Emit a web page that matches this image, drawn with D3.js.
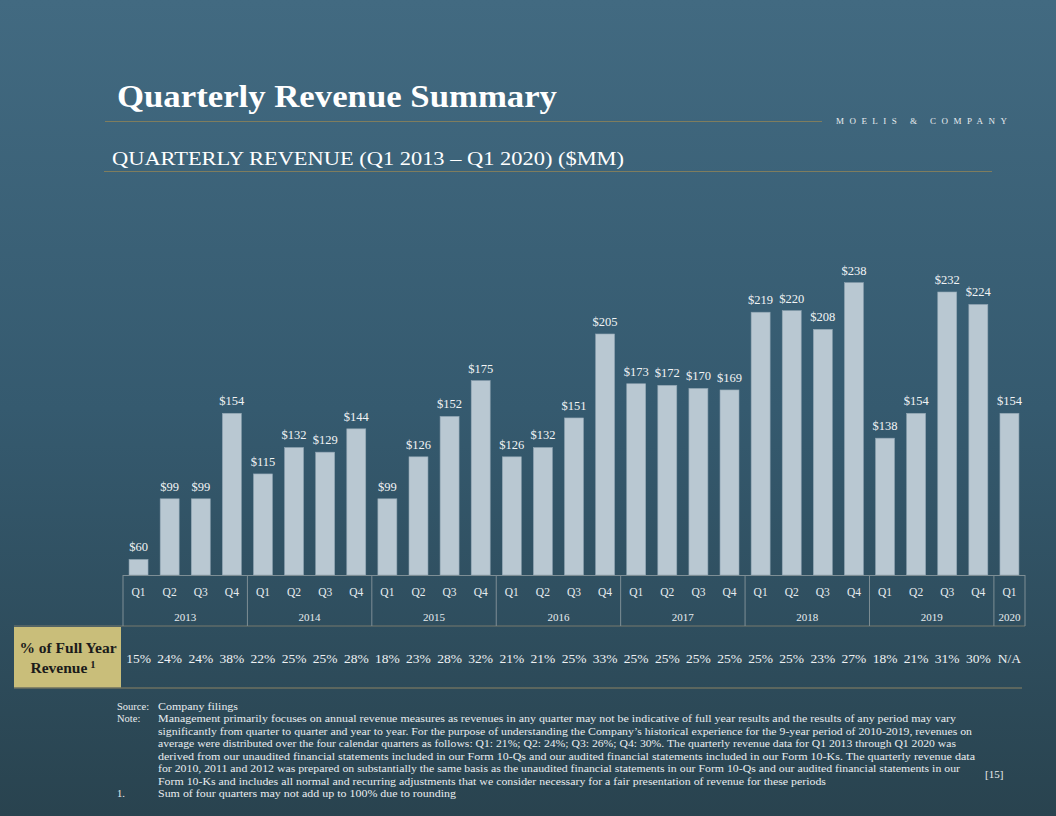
<!DOCTYPE html>
<html>
<head>
<meta charset="utf-8">
<script src="https://cdn.jsdelivr.net/npm/d3@7"></script>
<style>
  html, body { margin: 0; padding: 0; }
  body { width: 1056px; height: 816px; overflow: hidden; }
  svg text { font-family: "Palatino Linotype", "Book Antiqua", Palatino, "Liberation Serif", serif; }
</style>
</head>
<body>
<div id="chart"></div>
<script>
// chart values
var quarters = ["Q1","Q2","Q3","Q4","Q1","Q2","Q3","Q4","Q1","Q2","Q3","Q4","Q1","Q2","Q3","Q4",
                "Q1","Q2","Q3","Q4","Q1","Q2","Q3","Q4","Q1","Q2","Q3","Q4","Q1"];
var years = ["2013","2014","2015","2016","2017","2018","2019","2020"];
var yearCounts = [4, 4, 4, 4, 4, 4, 4, 1];
var revenue = [60, 99, 99, 154, 115, 132, 129, 144, 99, 126, 152, 175, 126, 132, 151, 205,
               173, 172, 170, 169, 219, 220, 208, 238, 138, 154, 232, 224, 154];
var pctOfYear = ["15%","24%","24%","38%","22%","25%","25%","28%","18%","23%","28%","32%","21%","21%","25%","33%",
                 "25%","25%","25%","25%","25%","25%","23%","27%","18%","21%","31%","30%","N/A"];

var notes = [
  "Management primarily focuses on annual revenue measures as revenues in any quarter may not be indicative of full year results and the results of any period may vary",
  "significantly from quarter to quarter and year to year. For the purpose of understanding the Company\u2019s historical experience for the 9-year period of 2010-2019,  revenues on",
  "average were distributed over the four calendar quarters as follows: Q1: 21%; Q2: 24%; Q3: 26%; Q4: 30%. The quarterly revenue data for Q1 2013 through Q1 2020 was",
  "derived from our unaudited financial statements included in our Form 10-Qs and our audited financial statements included in our Form 10-Ks. The quarterly revenue data",
  "for 2010, 2011 and 2012 was prepared on substantially the same basis as the unaudited financial statements in our Form 10-Qs and our audited financial statements in our",
  "Form 10-Ks and includes all normal and recurring adjustments that we consider necessary for a fair presentation of revenue for these periods"
];
var noteWidths = [798, 814, 798, 817, 802, 668];

var svgWidth = 1056, svgHeight = 816;

var svg = d3.select("#chart").append("svg")
    .attr("width", svgWidth)
    .attr("height", svgHeight);

// background gradient
var grad = svg.append("defs").append("linearGradient")
    .attr("id", "bg").attr("x1", 0).attr("y1", 0).attr("x2", 0).attr("y2", 1);
grad.append("stop").attr("offset", "0%").attr("stop-color", "#426a81");
grad.append("stop").attr("offset", "50%").attr("stop-color", "#355a6f");
grad.append("stop").attr("offset", "100%").attr("stop-color", "#29434f");
svg.append("rect").attr("width", svgWidth).attr("height", svgHeight).attr("fill", "url(#bg)");

// header
svg.append("text")
    .attr("x", 117).attr("y", 107)
    .attr("font-size", 31).attr("font-weight", "bold").attr("fill", "#ffffff")
    .attr("textLength", 440).attr("lengthAdjust", "spacingAndGlyphs")
    .text("Quarterly Revenue Summary");
svg.append("line").attr("x1", 105).attr("x2", 822).attr("y1", 121.5).attr("y2", 121.5)
    .attr("stroke", "#7f7d5e").attr("stroke-width", 1);
svg.append("text")
    .attr("x", 836).attr("y", 124)
    .attr("font-size", 9).attr("fill", "#e9edf0")
    .attr("textLength", 171).attr("lengthAdjust", "spacing")
    .text("MOELIS & COMPANY");

svg.append("text")
    .attr("x", 112).attr("y", 165)
    .attr("font-size", 19).attr("fill", "#ffffff")
    .attr("textLength", 512).attr("lengthAdjust", "spacingAndGlyphs")
    .text("QUARTERLY REVENUE (Q1 2013 \u2013 Q1 2020) ($MM)");
svg.append("line").attr("x1", 104).attr("x2", 992).attr("y1", 171.5).attr("y2", 171.5)
    .attr("stroke", "#7f7d5e").attr("stroke-width", 1);

// scales
var baseY = 575;
var x = d3.scaleBand()
    .domain(d3.range(revenue.length))
    .range([123, 1025])
    .paddingInner(0.39)
    .paddingOuter(0.195);

var y = d3.scaleLinear()
    .domain([50, 250])
    .range([baseY, baseY - 311]);

// bars
var chart = svg.append("g");
chart.selectAll("rect.bar")
    .data(revenue)
    .enter().append("rect")
    .attr("class", "bar")
    .attr("x", function(d, i) { return x(i); })
    .attr("width", x.bandwidth())
    .attr("y", function(d) { return y(d); })
    .attr("height", function(d) { return baseY - y(d); })
    .attr("fill", "#b9c8d2")
    .attr("stroke", "#8fa4b2")
    .attr("stroke-width", 0.6);

chart.selectAll("text.val")
    .data(revenue)
    .enter().append("text")
    .attr("class", "val")
    .attr("x", function(d, i) { return x(i) + x.bandwidth() / 2; })
    .attr("y", function(d) { return y(d) - 8; })
    .attr("text-anchor", "middle")
    .attr("font-size", 12.5).attr("fill", "#f2f4f5")
    .text(function(d) { return "$" + d; });

// category axis table
var step = x.step();
var left = 123;
var right = 1025;
var axisG = svg.append("g");
axisG.append("line").attr("x1", left).attr("x2", right).attr("y1", baseY + 0.5).attr("y2", baseY + 0.5)
    .attr("stroke", "#7e8e95").attr("stroke-width", 1.2);
axisG.append("line").attr("x1", 14).attr("x2", right).attr("y1", 626).attr("y2", 626)
    .attr("stroke", "#5f6b68").attr("stroke-width", 1.5);

axisG.selectAll("text.q")
    .data(quarters)
    .enter().append("text")
    .attr("class", "q")
    .attr("x", function(d, i) { return x(i) + x.bandwidth() / 2; })
    .attr("y", 596)
    .attr("text-anchor", "middle")
    .attr("font-size", 11.5).attr("fill", "#e6ecef")
    .text(function(d) { return d; });

var starts = [0];
yearCounts.forEach(function(c, i) { starts.push(starts[i] + c); });
var edge = function(k) { return left + k * step; };

axisG.selectAll("line.sep")
    .data(starts)
    .enter().append("line")
    .attr("class", "sep")
    .attr("x1", function(k) { return edge(k); })
    .attr("x2", function(k) { return edge(k); })
    .attr("y1", baseY).attr("y2", 626)
    .attr("stroke", "#7e8e95").attr("stroke-width", 1);

axisG.selectAll("text.yr")
    .data(years)
    .enter().append("text")
    .attr("class", "yr")
    .attr("x", function(d, i) { return (edge(starts[i]) + edge(starts[i + 1])) / 2; })
    .attr("y", 621)
    .attr("text-anchor", "middle")
    .attr("font-size", 11).attr("fill", "#e6ecef")
    .text(function(d) { return d; });

// percent of full year row
svg.append("rect").attr("x", 14).attr("y", 627).attr("width", 107).attr("height", 61)
    .attr("fill", "#c9be7a");
var lbl = svg.append("text").attr("text-anchor", "middle").attr("font-weight", "bold")
    .attr("fill", "#1b1b1b").attr("font-size", 15.5);
lbl.append("tspan").attr("x", 68).attr("y", 653).text("% of Full Year");
lbl.append("tspan").attr("x", 63).attr("y", 673).text("Revenue");
lbl.append("tspan").attr("font-size", 10.5).attr("dy", -5).attr("dx", 3).text("1");

svg.selectAll("text.pct")
    .data(pctOfYear)
    .enter().append("text")
    .attr("class", "pct")
    .attr("x", function(d, i) { return x(i) + x.bandwidth() / 2; })
    .attr("y", 663)
    .attr("text-anchor", "middle")
    .attr("font-size", 13.5).attr("fill", "#eef1f3")
    .text(function(d) { return d; });
svg.append("line").attr("x1", 14).attr("x2", 1022).attr("y1", 688).attr("y2", 688)
    .attr("stroke", "#6d7160").attr("stroke-width", 1.5);

// footnotes
var foot = svg.append("g").attr("font-size", 10.5).attr("fill", "#e9edf0");
foot.append("text").attr("x", 117).attr("y", 710).text("Source:");
foot.append("text").attr("x", 158).attr("y", 710).attr("textLength", 80).attr("lengthAdjust", "spacingAndGlyphs").text("Company filings");
foot.append("text").attr("x", 117).attr("y", 722).text("Note:");
foot.selectAll("text.note")
    .data(notes)
    .enter().append("text")
    .attr("class", "note")
    .attr("x", 158)
    .attr("y", function(d, i) { return 722 + i * 12.5; })
    .attr("textLength", function(d, i) { return noteWidths[i]; })
    .attr("lengthAdjust", "spacingAndGlyphs")
    .text(function(d) { return d; });
foot.append("text").attr("x", 117).attr("y", 797).text("1.");
foot.append("text").attr("x", 158).attr("y", 797).attr("textLength", 298).attr("lengthAdjust", "spacingAndGlyphs")
    .text("Sum of four quarters may not add up to 100% due to rounding");
foot.append("text").attr("x", 985).attr("y", 778).attr("font-size", 11).text("[15]");
</script>
</body>
</html>
